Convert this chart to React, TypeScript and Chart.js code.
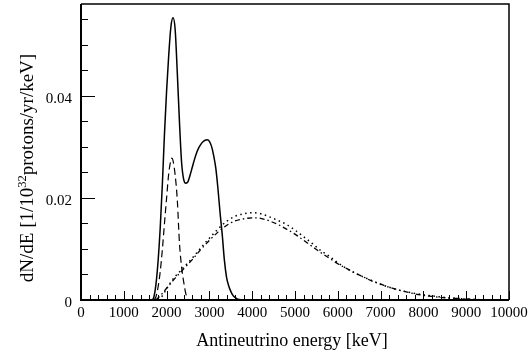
import React, { useEffect, useRef } from "react";
import { Chart, registerables } from "chart.js";

Chart.register(...registerables);

// Total spectrum (solid)
const totalE = [1600, 1650, 1700, 1750, 1800, 1850, 1900, 1950, 2000, 2050, 2100, 2150, 2200, 2250, 2300, 2350, 2400, 2450, 2500, 2550, 2600, 2650, 2700, 2750, 2800, 2850, 2900, 2950, 3000, 3050, 3100, 3150, 3200, 3250, 3300, 3350, 3400, 3450, 3500, 3550, 3600, 3650, 3700, 3800];
const totalV = [0, 0, 0.0005, 0.003, 0.0075, 0.014, 0.0225, 0.0325, 0.041, 0.048, 0.0535, 0.0553, 0.053, 0.0445, 0.035, 0.027, 0.0236, 0.0229, 0.0232, 0.0245, 0.026, 0.0275, 0.0288, 0.0298, 0.0305, 0.031, 0.0313, 0.0314, 0.0311, 0.0301, 0.0283, 0.0258, 0.0218, 0.017, 0.0128, 0.0078, 0.0045, 0.0028, 0.0017, 0.0009, 0.0005, 0.0002, 0.0001, 0];

// Narrow component (dashed)
const narrowE = [1700, 1750, 1800, 1850, 1900, 1950, 2000, 2050, 2100, 2125, 2150, 2200, 2250, 2300, 2350, 2400, 2450, 2500];
const narrowV = [0, 0.0006, 0.0025, 0.0055, 0.0098, 0.015, 0.02, 0.0248, 0.0274, 0.0278, 0.0273, 0.0245, 0.0196, 0.0112, 0.0065, 0.0035, 0.0012, 0];

// Broad component A (dotted)
const broadAE = [1800, 1900, 2000, 2100, 2200, 2300, 2400, 2500, 2600, 2700, 2800, 2900, 3000, 3200, 3400, 3600, 3800, 4000, 4200, 4400, 4600, 4800, 5000, 5200, 5400, 5600, 5800, 6000, 6200, 6400, 6600, 6800, 7000, 7200, 7400, 7600, 7800, 8000, 8200, 8400, 8600, 8800, 9000, 9200, 9400, 9600];
const broadAV = [0, 0.0008, 0.0022, 0.0035, 0.0046, 0.0055, 0.0064, 0.0073, 0.0082, 0.0092, 0.0102, 0.0112, 0.0121, 0.0139, 0.0154, 0.0164, 0.0169, 0.0171, 0.0169, 0.0163, 0.0156, 0.0148, 0.0137, 0.0124, 0.0111, 0.0097, 0.0086, 0.0073, 0.0062, 0.0053, 0.0045, 0.0038, 0.0031, 0.0025, 0.002, 0.0016, 0.0013, 0.001, 0.0008, 0.0006, 0.0004, 0.0003, 0.0002, 0.0001, 0.00005, 0];

// Broad component B (dash-dot)
const broadBE = [1750, 1800, 1900, 2000, 2100, 2200, 2300, 2400, 2500, 2600, 2700, 2800, 2900, 3000, 3200, 3400, 3600, 3800, 4000, 4200, 4400, 4600, 4800, 5000, 5200, 5400, 5600, 5800, 6000, 6200, 6400, 6600, 6800, 7000, 7200, 7400, 7600, 7800, 8000, 8200, 8400, 8600, 8800, 9000, 9200, 9400];
const broadBV = [0, 0.0004, 0.0013, 0.0023, 0.0033, 0.0043, 0.0052, 0.0061, 0.007, 0.0079, 0.0089, 0.0099, 0.0108, 0.0117, 0.0133, 0.0146, 0.0155, 0.0159, 0.0161, 0.016, 0.0155, 0.0148, 0.0139, 0.0129, 0.0117, 0.0105, 0.0093, 0.0082, 0.0071, 0.0062, 0.0053, 0.0045, 0.0037, 0.0031, 0.0025, 0.002, 0.0016, 0.0012, 0.0009, 0.0007, 0.0005, 0.0004, 0.0003, 0.0002, 0.0001, 0];

const xTickLabels = ["0", "1000", "2000", "3000", "4000", "5000", "6000", "7000", "8000", "9000", "10000"];
const yTickLabels = ["0", "0.02", "0.04"];
const X_MIN = 0;
const X_MAX = 10000;
const Y_MIN = 0;
const Y_MAX = 0.058;

const FONT = '"Liberation Serif", "Times New Roman", serif';

const pts = (xs: number[], ys: number[]) => xs.map((x, i) => ({ x, y: ys[i] }));

const framePlugin = {
  id: "rootFrame",
  afterDraw(chart: any) {
    const ctx = chart.ctx;
    const xs = chart.scales.x;
    const ys = chart.scales.y;
    const a = chart.chartArea;
    ctx.save();
    ctx.strokeStyle = "#000";
    // frame
    ctx.lineWidth = 1.5;
    ctx.beginPath();
    ctx.moveTo(a.left, a.top);
    ctx.lineTo(a.right, a.top);
    ctx.lineTo(a.right, a.bottom);
    ctx.stroke();
    ctx.lineWidth = 2;
    ctx.beginPath();
    ctx.moveTo(a.left, a.top);
    ctx.lineTo(a.left, a.bottom);
    ctx.lineTo(a.right, a.bottom);
    ctx.stroke();

    // x ticks
    ctx.lineWidth = 1;
    for (let v = X_MIN; v <= X_MAX + 1e-6; v += 200) {
      const major = Math.abs(v % 1000) < 1e-6;
      const px = Math.round(xs.getPixelForValue(v)) + 0.5;
      ctx.beginPath();
      ctx.moveTo(px, a.bottom);
      ctx.lineTo(px, a.bottom - (major ? 9 : 5));
      ctx.stroke();
    }
    // y ticks
    for (let i = 0; i <= 11; i++) {
      const v = i * 0.005;
      const major = i % 4 === 0;
      const py = Math.round(ys.getPixelForValue(v)) + 0.5;
      ctx.beginPath();
      ctx.moveTo(a.left, py);
      ctx.lineTo(a.left + (major ? 14 : 7), py);
      ctx.stroke();
    }

    // tick labels
    ctx.fillStyle = "#000";
    ctx.font = `15px ${FONT}`;
    ctx.textBaseline = "middle";
    ctx.textAlign = "center";
    xTickLabels.forEach((t) => {
      const px = xs.getPixelForValue(Number(t));
      ctx.fillText(t, px, a.bottom + 13);
    });
    ctx.textAlign = "right";
    yTickLabels.forEach((t) => {
      const py = ys.getPixelForValue(Number(t));
      ctx.fillText(t, a.left - 9, py + 3);
    });

    // x title
    ctx.font = `18px ${FONT}`;
    ctx.textAlign = "center";
    ctx.textBaseline = "alphabetic";
    ctx.fillText("Antineutrino energy [keV]", (a.left + a.right) / 2 - 3, 346);

    // y title with superscript
    const p1 = "dN/dE [1/10";
    const p2 = "32";
    const p3 = "protons/yr/keV]";
    const mainF = `19px ${FONT}`;
    const supF = `12.5px ${FONT}`;
    ctx.font = mainF;
    const w1 = ctx.measureText(p1).width;
    const w3 = ctx.measureText(p3).width;
    ctx.font = supF;
    const w2 = ctx.measureText(p2).width;
    const total = w1 + w2 + w3;
    ctx.translate(33, 168);
    ctx.rotate(-Math.PI / 2);
    ctx.textAlign = "left";
    let cx = -total / 2;
    ctx.font = mainF;
    ctx.fillText(p1, cx, 0);
    cx += w1;
    ctx.font = supF;
    ctx.fillText(p2, cx, -7.5);
    cx += w2;
    ctx.font = mainF;
    ctx.fillText(p3, cx, 0);
    ctx.restore();
  },
};

export default function App() {
  const ref = useRef<HTMLCanvasElement | null>(null);
  useEffect(() => {
    document.body.style.margin = "0";
    if (!ref.current) return;
    const common = {
      borderColor: "#000",
      pointRadius: 0,
      fill: false,
      cubicInterpolationMode: "monotone" as const,
    };
    const chart = new Chart(ref.current, {
      type: "line",
      data: {
        datasets: [
          { ...common, label: "total", data: pts(totalE, totalV), borderWidth: 1.5 },
          { ...common, label: "narrow", data: pts(narrowE, narrowV), borderWidth: 1.2, borderDash: [7, 4] },
          { ...common, label: "broadA", data: pts(broadAE, broadAV), borderWidth: 1.5, borderDash: [1.5, 3.5] },
          { ...common, label: "broadB", data: pts(broadBE, broadBV), borderWidth: 1.3, borderDash: [5, 3, 1.5, 3] },
        ],
      },
      options: {
        animation: false,
        responsive: false,
        events: [],
        layout: { padding: { left: 0, top: 4, right: 21, bottom: 0 } },
        plugins: { legend: { display: false }, tooltip: { enabled: false }, title: { display: false } },
        scales: {
          x: {
            type: "linear",
            min: X_MIN,
            max: X_MAX,
            grid: { display: false },
            border: { display: false },
            ticks: { display: false },
            afterFit: (s: any) => { s.height = 52; },
          },
          y: {
            type: "linear",
            min: Y_MIN,
            max: Y_MAX,
            grid: { display: false },
            border: { display: false },
            ticks: { display: false },
            afterFit: (s: any) => { s.width = 81; },
          },
        },
      },
      plugins: [framePlugin],
    });
    return () => chart.destroy();
  }, []);
  return <canvas ref={ref} width={530} height={352} style={{ display: "block", width: 530, height: 352 }} />;
}
